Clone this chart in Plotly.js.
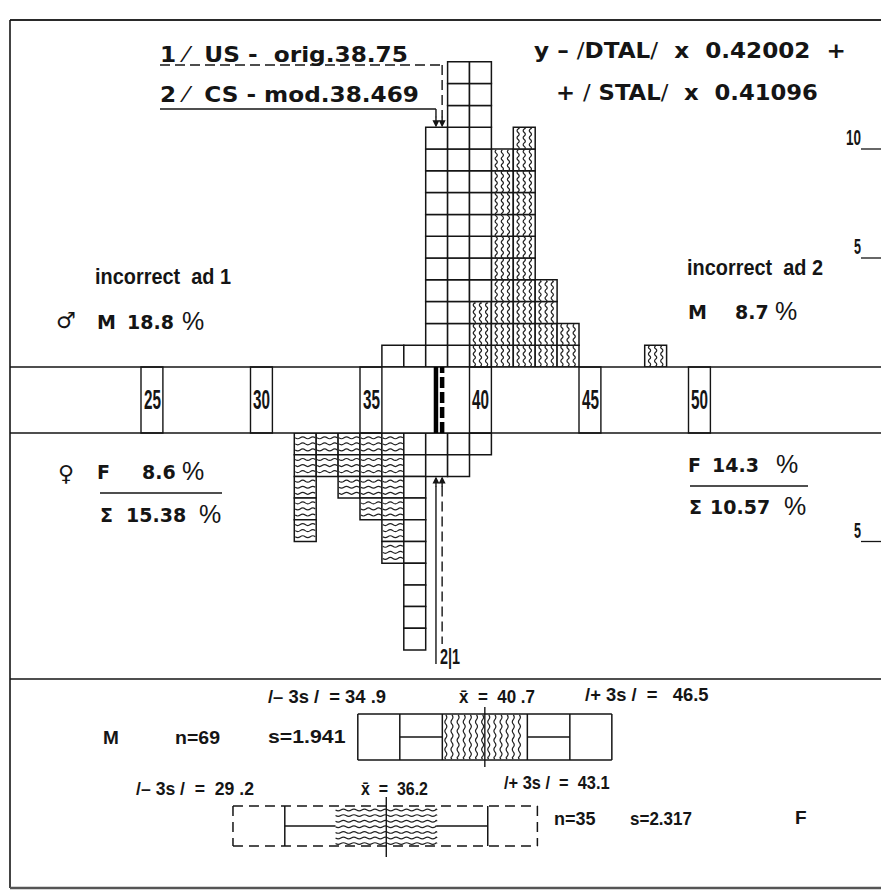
<!DOCTYPE html>
<html>
<head>
<meta charset="utf-8">
<script src="https://cdn.plot.ly/plotly-3.0.1.min.js"></script>
<style>html,body{margin:0;padding:0;background:#fff}</style>
</head>
<body>
<div id="chart" style="width:881px;height:895px"></div>
<script>
// ---- data -------------------------------------------------------------
// lower bound of each one-unit class
const maleBins      = [36, 37, 38, 39, 40, 41, 42, 43, 44, 48];
const malePlain     = [ 1,  1, 11, 14, 11,  0,  0,  0,  0,  0];
const maleHatched   = [ 0,  0,  0,  0,  3, 10, 11,  4,  2,  1];
const femaleBins    = [32, 33, 34, 35, 36, 37, 38, 39, 40];
const femaleHatched = [ 5,  2,  3,  4,  6,  0,  0,  0,  0];
const femalePlain   = [ 0,  0,  0,  0,  0, 10,  2,  2,  1];
const tickValues    = [25, 30, 35, 40, 45, 50];
// sectioning points: 1 = US original, 2 = CS modified
const cutLabels     = ['1', '2'];
const cutValues     = [38.75, 38.469];
// summary per sex
const groupNames    = ['M', 'F'];
const groupN        = [69, 35];
const groupMean     = [40.7, 36.2];
const groupSD       = [1.941, 2.317];
const groupLow3s    = [34.9, 29.2];
const groupHigh3s   = [46.5, 43.1];
// misclassification rates (M, F, total)
const incorrectAd1  = [18.8, 8.6, 15.38];
const incorrectAd2  = [8.7, 14.3, 10.57];

// ---- page geometry ----------------------------------------------------
const W = 881, H = 895;
const fx = p => p / W;
const fy = p => 1 - p / H;
const unitPx = 21.9;          // one class on the x axis
const topBase = 367, botBase = 433, sepY = 679;
const cellTop = 21.8, cellBot = 21.7;
const INK = '#151515';
const F_WIDE = '"DejaVu Sans", Verdana, sans-serif';
const F_LAB = '"Liberation Sans", Arial, sans-serif';

const bandTop = fy(topBase), bandBot = fy(botBase);

// ---- histogram cells ---------------------------------------------------
function expand(bins, lower, upper) {
  const lo = {x: [], base: []}, up = {x: [], base: []};
  bins.forEach((b, i) => {
    for (let k = 0; k < lower[i]; k++) { lo.x.push(b); lo.base.push(k); }
    for (let k = 0; k < upper[i]; k++) { up.x.push(b); up.base.push(lower[i] + k); }
  });
  return [lo, up];
}
function cellTrace(c, yaxis) {
  return {
    type: 'bar', x: c.x, base: c.base, y: c.x.map(() => 1),
    width: 1, offset: 0, yaxis: yaxis,
    marker: {color: '#ffffff', line: {color: INK, width: 1.5}},
    hoverinfo: 'skip'
  };
}
const [mHat, mPlain] = expand(maleBins, maleHatched, malePlain);
const [fHat, fPlain] = expand(femaleBins, femaleHatched, femalePlain);
const traces = [
  cellTrace(mHat, 'y'), cellTrace(mPlain, 'y'),
  cellTrace(fHat, 'y2'), cellTrace(fPlain, 'y2')
];

// ---- wavy hatching ------------------------------------------------------
function vWave(x, y0, y1, amp, half) {
  let p = `M${x},${y0}`, y = y0, s = 1;
  while (y < y1 - 1e-9) {
    const yn = Math.min(y + half, y1);
    p += ` Q${x + s * amp},${(y + yn) / 2} ${x},${yn}`;
    y = yn; s = -s;
  }
  return p;
}
function hWave(y, x0, x1, amp, half) {
  let p = `M${x0},${y}`, x = x0, s = 1;
  while (x < x1 - 1e-9) {
    const xn = Math.min(x + half, x1);
    p += ` Q${(x + xn) / 2},${y + s * amp} ${xn},${y}`;
    x = xn; s = -s;
  }
  return p;
}
const hatchLine = {color: '#222', width: 1.2};
const shapes = [];
maleBins.forEach((b, i) => {
  if (!maleHatched[i]) return;
  let p = '';
  [0.22, 0.5, 0.78].forEach(f => { p += vWave(b + f, 0.04, maleHatched[i] - 0.04, 0.1, 0.16) + ' '; });
  shapes.push({type: 'path', xref: 'x', yref: 'y', path: p, line: hatchLine});
});
femaleBins.forEach((b, i) => {
  if (!femaleHatched[i]) return;
  let p = '';
  for (let k = 0; k < femaleHatched[i]; k++) {
    [0.22, 0.5, 0.78].forEach(f => { p += hWave(k + f, b + 0.04, b + 0.96, 0.09, 0.23) + ' '; });
  }
  shapes.push({type: 'path', xref: 'x', yref: 'y2', path: p, line: hatchLine});
});

// ---- frame and scale band ---------------------------------------------
const frame = {color: INK, width: 1.6};
shapes.push(
  {type: 'line', xref: 'paper', yref: 'paper', x0: fx(10), x1: 1, y0: fy(20), y1: fy(20), line: {color: '#2a2a2a', width: 2.2}},
  {type: 'line', xref: 'paper', yref: 'paper', x0: fx(10), x1: fx(10), y0: fy(20), y1: fy(888), line: frame},
  {type: 'line', xref: 'paper', yref: 'paper', x0: fx(10), x1: 1, y0: fy(sepY), y1: fy(sepY), line: frame},
  {type: 'line', xref: 'paper', yref: 'paper', x0: fx(10), x1: 1, y0: fy(888), y1: fy(888), line: {color: '#555', width: 2.5}},
  {type: 'line', xref: 'paper', yref: 'paper', x0: fx(10), x1: 1, y0: bandTop, y1: bandTop, line: frame},
  {type: 'line', xref: 'paper', yref: 'paper', x0: fx(10), x1: 1, y0: bandBot, y1: bandBot, line: frame}
);
tickValues.forEach(t => {
  shapes.push({type: 'rect', xref: 'x', yref: 'paper', x0: t, x1: t + 1, y0: bandBot, y1: bandTop,
               line: {color: INK, width: 1.4}, fillcolor: 'rgba(0,0,0,0)'});
});
// sectioning points inside the band
cutValues.forEach((v, i) => {
  shapes.push({type: 'line', xref: 'x', yref: 'paper', x0: v, x1: v, y0: bandBot, y1: bandTop,
               line: {color: '#000', width: 4.5, dash: cutLabels[i] === '1' ? '11px,4px' : 'solid'}});
});

// ---- annotations, with optional width fitting ---------------------------
const annotations = [];
const fits = [];   // [annotation index, target width in px]
function add(a, fitW) {
  annotations.push(a);
  if (fitW) fits.push([annotations.length - 1, fitW]);
}
function txt(text, px, py, font, fitW, extra) {
  add(Object.assign({text: text, x: fx(px), y: fy(py), xref: 'paper', yref: 'paper',
    xanchor: 'left', yanchor: 'middle', showarrow: false, borderpad: 0,
    font: Object.assign({color: INK}, font)}, extra || {}), fitW);
}

// ---- pointers from the legend lines to the histograms -------------------
function totalAt(bins, a, b, v) {
  const i = bins.indexOf(Math.floor(v));
  return i < 0 ? 0 : a[i] + b[i];
}
cutValues.forEach((v, i) => {
  const dashed = cutLabels[i] === '1';
  const st = {color: INK, width: 1.4, dash: dashed ? '10px,5px' : 'solid'};
  const lineY = dashed ? 65 : 109;
  const topTip = totalAt(maleBins, malePlain, maleHatched, v);
  shapes.push({type: 'line', xref: 'paper', yref: 'paper', x0: fx(160), x1: fx(141 + (v - 25) * unitPx), y0: fy(lineY), y1: fy(lineY), line: st});
  shapes.push({type: 'line', xref: 'x', yref: 'paper', x0: v, x1: v, y0: fy(lineY), y1: fy(topBase - topTip * cellTop - 10), line: st});
  add({x: v, y: topTip, xref: 'x', yref: 'y', text: '', showarrow: true,
       arrowhead: 2, arrowsize: 1, arrowwidth: 1.4, arrowcolor: INK, ax: 0, ay: -12});
  const botTip = totalAt(femaleBins, femalePlain, femaleHatched, v);
  const tail = dashed ? 644 : 664;
  shapes.push({type: 'line', xref: 'x', yref: 'paper', x0: v, x1: v, y0: fy(botBase + botTip * cellBot + 10), y1: fy(tail), line: st});
  add({x: v, y: botTip, xref: 'x', yref: 'y2', text: '', showarrow: true,
       arrowhead: 2, arrowsize: 1, arrowwidth: 1.4, arrowcolor: INK, ax: 0, ay: 12});
});
add({x: cutValues[1], y: fy(656), xref: 'x', yref: 'paper', xanchor: 'left', yanchor: 'middle', xshift: 3, borderpad: 0,
     text: cutLabels[1] + '|' + cutLabels[0], showarrow: false,
     font: {family: F_LAB, size: 22, weight: 700, color: INK}}, 20);

// ---- headings -------------------------------------------------------------
const head = {family: F_WIDE, size: 21, weight: 700};
txt('1 <span style="font-weight:400">⁄</span>  US -  orig.38.75', 159, 55, head, 248);
txt('2 <span style="font-weight:400">⁄</span>  CS - mod.38.469', 159, 95, head, 259);
txt('y – <span style="font-weight:400">/</span>DTAL<span style="font-weight:400">/</span>  x  0.42002  +', 533, 50, {family: F_WIDE, size: 22, weight: 700}, 312);
txt('+ <span style="font-weight:400">/</span> STAL<span style="font-weight:400">/</span>  x  0.41096', 555, 92, {family: F_WIDE, size: 22, weight: 700}, 262);

// tick numbers in the band
tickValues.forEach(t => {
  add({text: String(t), x: t, y: (bandTop + bandBot) / 2, xref: 'x', yref: 'paper',
    xanchor: 'left', yanchor: 'middle', xshift: 1.5, showarrow: false, borderpad: 0,
    font: {family: F_LAB, size: 27, weight: 700, color: INK}}, 17);
});

// count scale on the right edge
[[10, 'y', 15], [5, 'y', 7], [5, 'y2', 7]].forEach(([v, ax, w]) => {
  shapes.push({type: 'line', xref: 'paper', yref: ax, x0: fx(861), x1: 1, y0: v, y1: v, line: {color: INK, width: 1.3}});
  add({text: String(v), x: fx(861 - w - 1), y: v, xref: 'paper', yref: ax, xanchor: 'left',
    yanchor: 'bottom', yshift: -2, showarrow: false, borderpad: 0,
    font: {family: F_LAB, size: 22, weight: 700, color: INK}}, w);
});

// misclassification notes
const lab = {family: F_LAB, size: 22, weight: 700};
const num = {family: F_WIDE, size: 19, weight: 700};
const pc = {family: F_LAB, size: 25, weight: 400};
function rate(value, px, py) {
  txt(String(value), px, py, num);
}
txt('incorrect  ad 1', 94, 277, lab, 136);
txt('♂', 55, 320, {family: F_WIDE, size: 22});
txt(groupNames[0], 96, 322, num);
rate(incorrectAd1[0], 126, 322); txt('%', 181, 321, pc);
txt('♀', 57, 473, {family: F_WIDE, size: 22});
txt(groupNames[1], 96, 472, num);
rate(incorrectAd1[1], 141, 472); txt('%', 181, 471, pc);
txt('Σ', 99, 515, num);
rate(incorrectAd1[2], 125, 515); txt('%', 198, 514, pc);
txt('incorrect  ad 2', 686, 267, lab, 136);
txt(groupNames[0], 687, 312, num);
rate(incorrectAd2[0], 734, 312); txt('%', 774, 311, pc);
txt(groupNames[1], 687, 465, num);
rate(incorrectAd2[1], 711, 465); txt('%', 775, 464, pc);
txt('Σ', 688, 507, num);
rate(incorrectAd2[2], 709, 507); txt('%', 783, 506, pc);
shapes.push(
  {type: 'line', xref: 'paper', yref: 'paper', x0: fx(100), x1: fx(222), y0: fy(493), y1: fy(493), line: {color: INK, width: 1.3}},
  {type: 'line', xref: 'paper', yref: 'paper', x0: fx(690), x1: fx(808), y0: fy(486), y1: fy(486), line: {color: INK, width: 1.3}}
);

// ---- mean ± k·s diagrams -------------------------------------------------
// y3 runs in pixels below the separator line
const rows = [
  {top: 35, bot: 81, meanTop: 28, meanBot: 88, dashed: false},
  {top: 127, bot: 167, meanTop: 118, meanBot: 178, dashed: true}
];
const solid = {color: INK, width: 1.5};
const dashedLine = {color: INK, width: 1.5, dash: '10px,6px'};
rows.forEach((r, g) => {
  const m = groupMean[g], s = groupSD[g];
  const lo = groupLow3s[g], hi = groupHigh3s[g];
  const mid = (r.top + r.bot) / 2;
  const L = (x0, x1, y0, y1, line) => shapes.push({type: 'line', xref: 'x', yref: 'y3', x0, x1, y0, y1, line});
  const edge = r.dashed ? dashedLine : solid;
  L(lo, hi, r.top, r.top, edge);
  L(lo, hi, r.bot, r.bot, edge);
  L(lo, lo, r.top, r.bot, edge);
  L(hi, hi, r.top, r.bot, edge);
  L(m - 2 * s, m - 2 * s, r.top, r.bot, solid);
  L(m + 2 * s, m + 2 * s, r.top, r.bot, solid);
  if (!r.dashed) {
    L(m - s, m - s, r.top, r.bot, solid);
    L(m + s, m + s, r.top, r.bot, solid);
  }
  L(m - 2 * s, m - s, mid, mid, solid);
  L(m + s, m + 2 * s, mid, mid, solid);
  let p = '';
  if (!r.dashed) {
    for (let x = m - s + 0.16; x < m + s - 0.1; x += 0.28) p += vWave(x, r.top + 1, r.bot - 1, 0.09, 4.6) + ' ';
  } else {
    for (let y = r.top + 4; y < r.bot - 2; y += 5.6) p += hWave(y, m - s, m + s, 1.7, 0.24) + ' ';
  }
  shapes.push({type: 'path', xref: 'x', yref: 'y3', path: p, line: hatchLine});
  L(m, m, r.meanTop, r.meanBot, {color: INK, width: 1.4});
});

const stat = {family: F_LAB, size: 19, weight: 700};
const y3 = p => sepY + p;
txt('/– 3s /  = ' + groupLow3s[0].toFixed(1).replace('.', ' .'), 267, y3(17), stat, 118);
txt('x̄  =  ' + groupMean[0].toFixed(1).replace('.', ' .'), 458, y3(17), stat, 76);
txt('/+ 3s /  =   ' + groupHigh3s[0].toFixed(1), 584, y3(15), stat, 124);
txt(groupNames[0], 102, y3(58), stat);
txt('n=' + groupN[0], 174, y3(58), stat, 45);
txt('s=' + groupSD[0], 267, y3(57), stat, 78);
txt('/– 3s /  =  ' + groupLow3s[1].toFixed(1).replace('.', ' .'), 135, y3(109), stat, 118);
txt('x̄  =  ' + groupMean[1].toFixed(1), 360, y3(109), stat, 67);
txt('/+ 3s /  =  ' + groupHigh3s[1].toFixed(1), 503, y3(103), stat, 106);
txt('n=' + groupN[1], 553, y3(139), stat, 42);
txt('s=' + groupSD[1], 629, y3(139), stat, 62);
txt(groupNames[1], 794, y3(138), stat);

// ---- layout -----------------------------------------------------------
const layout = {
  width: W, height: H,
  margin: {l: 0, r: 0, t: 0, b: 0},
  paper_bgcolor: '#ffffff', plot_bgcolor: 'rgba(0,0,0,0)',
  showlegend: false, barmode: 'overlay', hovermode: false,
  xaxis: {range: [25 - 141 / unitPx, 25 + (W - 141) / unitPx], visible: false, fixedrange: true},
  yaxis: {domain: [1 - topBase / H, 1], range: [0, topBase / cellTop], visible: false},
  yaxis2: {domain: [1 - sepY / H, 1 - botBase / H], range: [(sepY - botBase) / cellBot, 0], visible: false},
  yaxis3: {domain: [0, 1 - sepY / H], range: [H - sepY, 0], visible: false},
  shapes: shapes,
  annotations: annotations
};

// fit selected labels to their column widths by horizontal scaling
function fitLabels() {
  fits.forEach(([i, w]) => {
    const t = document.querySelector(`.annotation[data-index="${i}"] text`);
    if (!t) return;
    const bw = t.getBBox().width;
    if (!bw) return;
    t.style.transformBox = 'fill-box';
    t.style.transformOrigin = 'left center';
    t.style.transform = `scaleX(${(w / bw).toFixed(4)})`;
  });
}
Plotly.newPlot('chart', traces, layout, {staticPlot: true, displayModeBar: false}).then(fitLabels);
</script>
</body>
</html>
